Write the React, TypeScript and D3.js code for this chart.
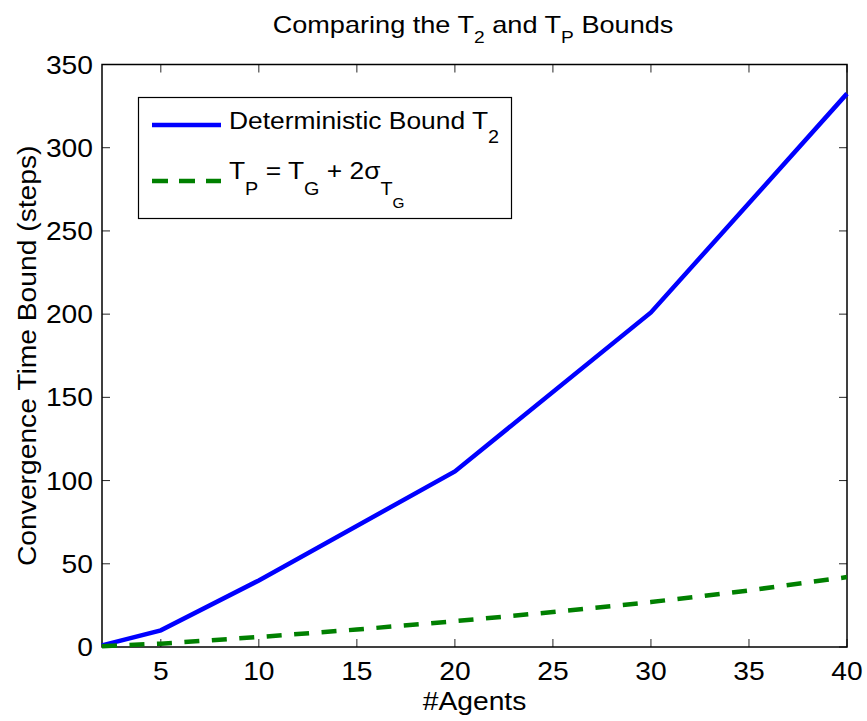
import * as d3 from "d3";
import { useEffect, useRef } from "react";

const agents = [2, 5, 10, 20, 30, 40];
const deterministic = [1, 10, 40, 105.5, 201, 332.5];

const agentsP = [2, 5, 10, 15, 20, 25, 30, 35, 40];
const probabilistic = [0.5, 2, 6, 10.5, 15.5, 21, 27, 34, 42];

const xTicks = [5, 10, 15, 20, 25, 30, 35, 40];
const yTicks = [0, 50, 100, 150, 200, 250, 300, 350];

const FONT = "'Liberation Sans', Arial, Helvetica, sans-serif";
const STRETCH = 1.13;

const App = () => {
    const svgRef = useRef<SVGSVGElement>(null);

    useEffect(() => {
        const svg = d3.select(svgRef.current);
        const width = 867;
        const height = 721;
        const margin = { top: 64.5, right: 20, bottom: 74, left: 102 };

        svg.selectAll("*").remove();

        const x = d3.scaleLinear().domain([2, 40]).range([margin.left, width - margin.right]);
        const y = d3.scaleLinear().domain([0, 350]).range([height - margin.bottom, margin.top]);

        const x0 = x.range()[0], x1 = x.range()[1];
        const y0 = y.range()[0], y1 = y.range()[1];

        // text helper: the reference font is a bit wider than Liberation Sans
        const label = (parent, tx, ty, size, anchor, rotate = 0, stretch = STRETCH) =>
            parent.append("text")
                .attr("transform", `translate(${tx},${ty}) rotate(${rotate}) scale(${stretch},1)`)
                .attr("text-anchor", anchor)
                .attr("font-family", FONT)
                .attr("font-size", size);

        svg.append("rect").attr("width", width).attr("height", height).attr("fill", "white");

        const tickLen = 8;
        const ticks = svg.append("g").attr("stroke", "#262626").attr("stroke-width", 1);
        xTicks.forEach(t => {
            ticks.append("line").attr("x1", x(t)).attr("x2", x(t)).attr("y1", y0).attr("y2", y0 - tickLen);
            ticks.append("line").attr("x1", x(t)).attr("x2", x(t)).attr("y1", y1).attr("y2", y1 + tickLen);
        });
        yTicks.forEach(t => {
            ticks.append("line").attr("x1", x0).attr("x2", x0 + tickLen).attr("y1", y(t)).attr("y2", y(t));
            ticks.append("line").attr("x1", x1).attr("x2", x1 - tickLen).attr("y1", y(t)).attr("y2", y(t));
        });

        svg.append("rect")
            .attr("x", x0).attr("y", y1)
            .attr("width", x1 - x0).attr("height", y0 - y1)
            .attr("fill", "none").attr("stroke", "black").attr("stroke-width", 1.5);

        const xt = svg.append("g");
        xTicks.forEach(t => label(xt, x(t), y0 + 33, 25, "middle").text(t));

        const yt = svg.append("g");
        yTicks.forEach(t => label(yt, x0 - 9, y(t) + 9, 25, "end").text(t));

        label(svg, (x0 + x1) / 2, 710, 25, "middle").text("#Agents");
        label(svg, 36, (y0 + y1) / 2, 25, "middle", -90).text("Convergence Time Bound (steps)");

        const title = label(svg, 473, 33, 24, "middle");
        title.append("tspan").text("Comparing the T");
        title.append("tspan").attr("font-size", 17).attr("dy", 10).text("2");
        title.append("tspan").attr("dy", -10).text(" and T");
        title.append("tspan").attr("font-size", 17).attr("dy", 10).text("P");
        title.append("tspan").attr("dy", -10).text(" Bounds");

        const line = d3.line<[number, number]>().x(d => x(d[0])).y(d => y(d[1]));

        svg.append("path")
            .datum(agents.map((a, i) => [a, deterministic[i]] as [number, number]))
            .attr("fill", "none").attr("stroke", "#0000ff").attr("stroke-width", 4.5)
            .attr("d", line);

        svg.append("path")
            .datum(agentsP.map((a, i) => [a, probabilistic[i]] as [number, number]))
            .attr("fill", "none").attr("stroke", "#008000").attr("stroke-width", 4.5)
            .attr("stroke-dasharray", "15 12.5")
            .attr("d", line);

        // legend
        const lg = svg.append("g");
        lg.append("rect")
            .attr("x", 138.5).attr("y", 97.5).attr("width", 373).attr("height", 121)
            .attr("fill", "white").attr("stroke", "black").attr("stroke-width", 1.2);
        lg.append("line").attr("x1", 152).attr("x2", 221).attr("y1", 125).attr("y2", 125)
            .attr("stroke", "#0000ff").attr("stroke-width", 4.5);
        lg.append("line").attr("x1", 152).attr("x2", 221).attr("y1", 181).attr("y2", 181)
            .attr("stroke", "#008000").attr("stroke-width", 4.5).attr("stroke-dasharray", "16 11");

        const t1 = label(lg, 229, 129, 24, "start", 0, 1.1);
        t1.append("tspan").text("Deterministic Bound T");
        t1.append("tspan").attr("font-size", 18).attr("dy", 14).text("2");

        const t2 = label(lg, 229, 179, 24, "start", 0, 1.1);
        t2.append("tspan").text("T");
        t2.append("tspan").attr("font-size", 18).attr("dy", 16).text("P");
        t2.append("tspan").attr("dy", -16).text(" = T");
        t2.append("tspan").attr("font-size", 18).attr("dy", 16).text("G");
        t2.append("tspan").attr("dy", -16).text(" + 2σ");
        t2.append("tspan").attr("font-size", 18).attr("dy", 16).text("T");
        t2.append("tspan").attr("font-size", 14).attr("dy", 13).text("G");
    }, []);

    return <svg ref={svgRef} width={867} height={721} style={{ display: "block", position: "absolute", left: 0, top: 0 }} />;
};

export default App;
